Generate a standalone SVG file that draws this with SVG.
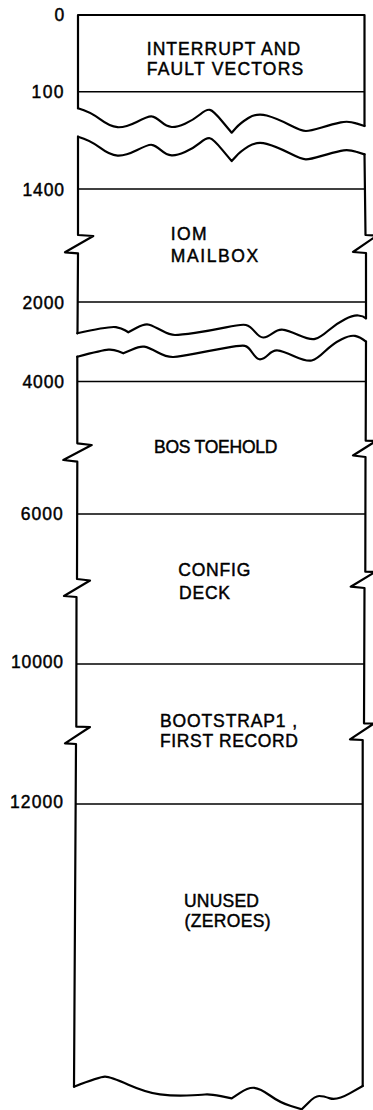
<svg xmlns="http://www.w3.org/2000/svg" xmlns:xlink="http://www.w3.org/1999/xlink" width="373" height="1110" viewBox="0 0 373 1110">
<style>
.edge{fill:none;stroke:#000;stroke-width:2.2;stroke-linejoin:round;stroke-linecap:round}
.div{fill:none;stroke:#000;stroke-width:1.6;stroke-linecap:butt}
.t{font-family:"Liberation Sans",Arial,Helvetica,sans-serif;font-size:17.5px;fill:#000;stroke:#000;stroke-width:0.45}
</style>
<defs>
<path id="wave1" class="edge" d="M78,108.3 Q90,111.7 100,119.2 Q110,126.7 117.5,127.2 Q125,127.7 136.7,121.9 Q148.3,116 151.7,116.4 Q155,116.7 160.9,121.7 Q166.7,126.7 171.7,127 Q176.7,127.3 185,123.7 Q193.3,120 200,114.5 Q206.7,109 210,109.9 Q213.3,110.7 222.5,121.7 L231.7,132.7 L235.9,128 Q240,123.3 248.4,118 Q256.7,112.7 266.7,115.5 Q276.7,118.3 289.2,124.7 Q301.7,131 305.9,131 Q310,131 321.7,127.5 Q333.3,124 340.8,122.4 Q348.3,120.7 356.2,123.4 L364.5,126"/>
</defs>
<rect width="373" height="1110" fill="#fff"/>
<g id="outline">
<path class="edge" d="M78,108.3 L78,15 L364.5,15 L364.5,126"/>
<use xlink:href="#wave1" href="#wave1"/>
<use xlink:href="#wave1" href="#wave1" transform="translate(0,28.4)"/>
<path class="edge" d="M78,136.7 L78,235 L93.3,236 L65,252.3 L78,253.3 L77.5,333.3"/>
<path class="edge" d="M364.5,154.4 L365.5,235 L377,235.5 L353,252 L366,253 L366,318.3"/>
<path class="edge" d="M77.3,333.3 Q110,326 115.9,327.2 Q121.7,328.3 125,330.3 L128.3,332.3 L136.7,327.8 Q145,323.3 149.2,324.7 Q153.3,326 161.7,330.5 Q170,335 175,335 Q180,335 195,332.9 Q210,330.7 225.9,327.4 Q241.7,324 245.9,325 Q250,326 255,331.9 Q260,337.7 263.4,337.5 Q266.7,337.3 272.5,333.3 Q278.3,329.3 282.5,329.7 Q286.7,330 298.4,335 Q310,340 315,338.9 Q320,337.7 328.4,330.5 Q336.7,323.3 345,319.2 Q353.3,315 358.3,315.5 Q363.3,316 366,318.3"/>
<path class="edge" d="M77.3,356.7 Q103.3,350 108.3,349.7 Q113.3,349.3 118.3,351.3 L123.3,353.3 L131.7,349.7 Q140,346 144.2,346.7 Q148.3,347.3 157.5,352.3 Q166.7,357.3 173.4,357 Q180,356.7 195,353.7 Q210,350.7 225.9,347.9 Q241.7,345 245,345.9 Q248.3,346.7 252.5,353 Q256.7,359.3 260,359.3 Q263.3,359.3 268.3,354.7 Q273.3,350 277.5,350.4 Q281.7,350.7 294.2,356.2 Q306.7,361.7 311.7,360.5 Q316.7,359.3 325,351.3 Q333.3,343.3 341.7,339.2 Q350,335 355,335.9 Q360,336.7 366,341.7"/>
<path class="edge" d="M77.3,356.7 L77.3,443.3 L91.7,445 L63.3,460 L77.3,461.7 L77,579 L90,580.5 L64,596 L76.5,597 L76.3,726.7 L90,727 L65,743.3 L76,744 L74,1086.7"/>
<path class="edge" d="M366,341.7 L365.7,440.7 L376,441 L353,455.5 L365.5,457 L365.3,571.7 L375,572 L350.7,586.7 L364.5,588 L364,723.3 L374,723.5 L350,739.3 L362.7,740 L362.7,1086"/>
<path class="edge" d="M74,1086.7 Q100,1076.7 105,1076.7 Q110,1076.7 128.4,1084.7 Q146.7,1092.7 160,1094.4 Q173.3,1096 186.7,1095.5 Q200,1095 205,1094.5 Q210,1094 220.9,1096.2 L231.7,1098.3 L240,1092.8 Q248.3,1087.3 254.2,1087.8 Q260,1088.3 270,1095.5 Q280,1102.7 290.9,1106 L301.7,1109.3 L308.4,1102.7 Q315,1096 319.2,1096 Q323.3,1096 330,1098.4 Q336.7,1100.7 349.7,1093.4 L362.7,1086"/>
</g>
<g id="boundaries">
<line class="div" x1="78" y1="91.7" x2="364.5" y2="91.7"/>
<line class="div" x1="78" y1="189" x2="365.3" y2="189"/>
<line class="div" x1="78" y1="302" x2="366" y2="302"/>
<line class="div" x1="77.3" y1="381.5" x2="365.7" y2="381.5"/>
<line class="div" x1="77.1" y1="514" x2="365.5" y2="514"/>
<line class="div" x1="76.5" y1="664" x2="364" y2="664"/>
<line class="div" x1="76" y1="804" x2="362.7" y2="804"/>
</g>
<g id="region-vectors">
<text class="t" x="54.5" y="21" textLength="9.5">0</text>
<text class="t" x="146.7" y="54.5" textLength="153.5">INTERRUPT AND</text>
<text class="t" x="146.7" y="74.5" textLength="156.5">FAULT VECTORS</text>
</g>
<g id="region-gap1">
<text class="t" x="31.5" y="98" textLength="32">100</text>
</g>
<g id="region-iom">
<text class="t" x="22.5" y="195.5" textLength="41.5">1400</text>
<text class="t" x="170.7" y="239.5" textLength="36">IOM</text>
<text class="t" x="170.7" y="261.5" textLength="87.5">MAILBOX</text>
</g>
<g id="region-gap2">
<text class="t" x="22.5" y="308.5" textLength="41.5">2000</text>
</g>
<g id="region-bos">
<text class="t" x="22.5" y="388" textLength="41.5">4000</text>
<text class="t" x="154" y="452.5" textLength="123.5">BOS TOEHOLD</text>
</g>
<g id="region-config">
<text class="t" x="20.8" y="519.5" textLength="42">6000</text>
<text class="t" x="178.3" y="575.5" textLength="72">CONFIG</text>
<text class="t" x="179" y="598.5" textLength="51">DECK</text>
</g>
<g id="region-bootstrap">
<text class="t" x="11" y="668" textLength="52">10000</text>
<text class="t" x="160" y="726.5" textLength="137">BOOTSTRAP1 ,</text>
<text class="t" x="160" y="746.5" textLength="138">FIRST RECORD</text>
</g>
<g id="region-unused">
<text class="t" x="10" y="808" textLength="53">12000</text>
<text class="t" x="184" y="907" textLength="75">UNUSED</text>
<text class="t" x="184.5" y="927" textLength="86">(ZEROES)</text>
</g>
</svg>
